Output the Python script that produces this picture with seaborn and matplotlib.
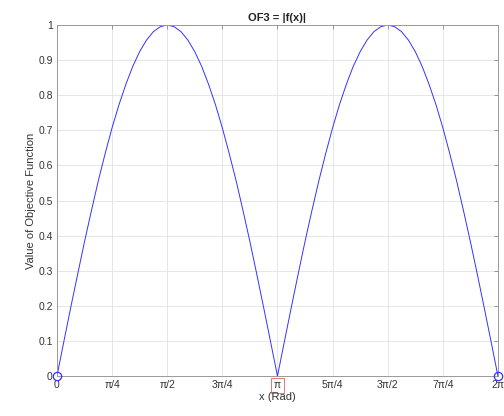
import numpy as np
import pandas as pd
import matplotlib
matplotlib.use("Agg")
import matplotlib.pyplot as plt
import seaborn as sns

# x samples (radians) and |f(x)| values
x_rad = [0.000, 0.098, 0.196, 0.295, 0.393, 0.491, 0.589, 0.687, 0.785, 0.884,
         0.982, 1.080, 1.178, 1.276, 1.374, 1.473, 1.571, 1.669, 1.767, 1.865,
         1.963, 2.062, 2.160, 2.258, 2.356, 2.454, 2.553, 2.651, 2.749, 2.847,
         2.945, 3.043, 3.142, 3.240, 3.338, 3.436, 3.534, 3.632, 3.731, 3.829,
         3.927, 4.025, 4.123, 4.221, 4.320, 4.418, 4.516, 4.614, 4.712, 4.811,
         4.909, 5.007, 5.105, 5.203, 5.301, 5.400, 5.498, 5.596, 5.694, 5.792,
         5.890, 5.989, 6.087, 6.185, 6.283]
f_abs = [0.000, 0.098, 0.195, 0.290, 0.383, 0.471, 0.556, 0.634, 0.707, 0.773,
         0.831, 0.882, 0.924, 0.957, 0.981, 0.995, 1.000, 0.995, 0.981, 0.957,
         0.924, 0.882, 0.831, 0.773, 0.707, 0.634, 0.556, 0.471, 0.383, 0.290,
         0.195, 0.098, 0.000, 0.098, 0.195, 0.290, 0.383, 0.471, 0.556, 0.634,
         0.707, 0.773, 0.831, 0.882, 0.924, 0.957, 0.981, 0.995, 1.000, 0.995,
         0.981, 0.957, 0.924, 0.882, 0.831, 0.773, 0.707, 0.634, 0.556, 0.471,
         0.383, 0.290, 0.195, 0.098, 0.000]

# marked endpoints
mark_x = [0.0, 6.283]
mark_y = [0.0, 0.0]

x_ticks = [0.0, 0.785, 1.571, 2.356, 3.142, 3.927, 4.712, 5.498, 6.283]
x_tick_labels = ["0", "π/4", "π/2", "3π/4", "π", "5π/4", "3π/2", "7π/4", "2π"]
y_ticks = [0.0, 0.1, 0.2, 0.3, 0.4, 0.5, 0.6, 0.7, 0.8, 0.9, 1.0]
y_tick_labels = ["0", "0.1", "0.2", "0.3", "0.4", "0.5", "0.6", "0.7", "0.8", "0.9", "1"]

sns.set_style("white")
plt.rcParams["font.family"] = ["Liberation Sans", "DejaVu Sans"]

fig = plt.figure(figsize=(5.04, 4.16), dpi=100)
ax = fig.add_axes([0.113, 0.096, 0.875, 0.844])

df = pd.DataFrame({"x": x_rad, "y": f_abs})
sns.lineplot(data=df, x="x", y="y", ax=ax, color="#3333ff", linewidth=0.7,
             estimator=None, sort=False)
ax.plot(mark_x, mark_y, linestyle="none", marker="o", markersize=6,
        markerfacecolor="none", markeredgecolor="#3333ff", markeredgewidth=0.9,
        clip_on=False, zorder=6)

ax.set_xlim(0, 6.283)
ax.set_ylim(0, 1)
ax.set_xticks(x_ticks)
ax.set_xticklabels(x_tick_labels)
ax.set_yticks(y_ticks)
ax.set_yticklabels(y_tick_labels)
ax.grid(True, color="#e6e6e6", linewidth=0.7)
ax.set_axisbelow(True)
for s in ax.spines.values():
    s.set_color("#999999")
    s.set_linewidth(0.7)
ax.tick_params(direction="in", length=3, width=0.6, color="#888888",
               labelsize=7.5, labelcolor="#333333", pad=3,
               top=True, right=True)

for lab in ax.get_xticklabels():
    if lab.get_text() == "π":
        lab.set_bbox(dict(facecolor="none", edgecolor="#e06060",
                          linewidth=0.6, boxstyle="square,pad=0.25"))

ax.set_xlabel("x (Rad)", fontsize=8, color="#333333", labelpad=1)
ax.set_ylabel("Value of Objective Function", fontsize=8, color="#333333", labelpad=2)
ax.set_title("OF3 = |f(x)|", fontsize=8, fontweight="bold", color="#222222", pad=3)

fig.savefig("out.png", dpi=100)
